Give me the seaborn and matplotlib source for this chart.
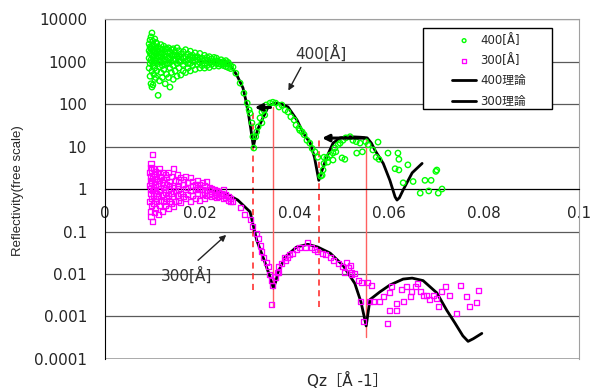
import numpy as np
import pandas as pd
import matplotlib
matplotlib.use('Agg')
import matplotlib.pyplot as plt
from matplotlib.patches import Rectangle
import seaborn as sns

sns.set_style('white')
plt.rcParams['font.family'] = ['DejaVu Sans', 'Noto Sans CJK JP']

## Data

# 400 A sample, dense low-q region: q positions and the R values scattered at each
q400_dense = [0.0093, 0.0095, 0.0097, 0.0099, 0.0101, 0.0103, 0.0105, 0.0107, 0.0109, 0.0112,
              0.0115, 0.0118, 0.0121, 0.0124, 0.0127, 0.0130, 0.0134, 0.0137, 0.0140, 0.0144,
              0.0148, 0.0152, 0.0156, 0.0160, 0.0165, 0.0170, 0.0175, 0.0180, 0.0185, 0.0190,
              0.0195, 0.0200, 0.0205, 0.0210, 0.0215, 0.0220, 0.0225, 0.0230, 0.0235, 0.0240,
              0.0245, 0.0250, 0.0255, 0.0260, 0.0265]
r400_dense = [[1200, 2600, 700, 1800], [3200, 900, 450, 1600, 2200], [2000, 1100, 300, 3800, 1500],
              [4700, 1400, 600, 2300, 250, 1000], [280, 1900, 3000, 800, 1300], [1300, 2400, 500, 950, 1700],
              [3400, 700, 1700, 380, 1100], [2100, 1000, 420, 1500, 2800], [2700, 600, 1200, 1800],
              [160, 1800, 900, 2200, 1300], [1300, 350, 2000, 750, 1000], [1600, 550, 2500, 1000, 1300],
              [420, 1900, 1200, 800, 1500], [2300, 650, 1400, 1000], [1100, 300, 1700, 850, 2000],
              [2000, 500, 1300, 900], [900, 1600, 420, 2100, 1200], [250, 1200, 700, 1700], [1900, 1000, 550, 1400],
              [1400, 800, 2000, 380, 1100], [1100, 600, 1700, 1400], [2100, 900, 450, 1300], [1300, 700, 1800, 1000],
              [1000, 480, 1500, 1250], [1700, 850, 600, 1200], [1300, 1000, 550, 1900], [1100, 700, 1500, 900],
              [1750, 900, 600, 1300], [1200, 800, 1400, 1000], [1000, 650, 1600, 1250], [1300, 850, 1100],
              [1550, 950, 700, 1200], [1200, 800, 1050], [1400, 900, 700, 1100], [1100, 1250, 800],
              [950, 1300, 720], [1150, 850, 1000], [1250, 780, 950], [1050, 900, 1200],
              [1000, 780, 880], [1100, 850, 950], [1000, 800, 900], [1050, 760, 880],
              [900, 950, 720], [800, 680]]

# 400 A sample, fringe region
q400_fringe = [0.0270, 0.0276, 0.0285, 0.0293, 0.0300, 0.0304, 0.0306, 0.0310, 0.0312, 0.0314,
               0.0318, 0.0320, 0.0323, 0.0327, 0.0331, 0.0331, 0.0335, 0.0337, 0.0340, 0.0348,
               0.0354, 0.0360, 0.0367, 0.0373, 0.0380, 0.0386, 0.0392, 0.0399, 0.0403, 0.0409,
               0.0411, 0.0416, 0.0420, 0.0426, 0.0432, 0.0437, 0.0443, 0.0449, 0.0455, 0.0458,
               0.0460, 0.0462, 0.0462, 0.0468, 0.0470, 0.0475, 0.0481, 0.0481, 0.0485, 0.0487,
               0.0492, 0.0496, 0.0500, 0.0502, 0.0506, 0.0508, 0.0517, 0.0523, 0.0530, 0.0531,
               0.0538, 0.0543, 0.0550, 0.0555, 0.0565, 0.0572, 0.0576, 0.0578, 0.0597, 0.0612,
               0.0618, 0.0620, 0.0620, 0.0629, 0.0639, 0.0650, 0.0665, 0.0675, 0.0683, 0.0688,
               0.0698, 0.0700, 0.0703, 0.0711]
r400_fringe = [740, 530, 310, 180, 105, 73, 61, 36, 17, 9.2,
               17, 22, 29, 47, 65, 36, 72, 55, 95, 105,
               110, 105, 85, 95, 72, 65, 50, 42, 32, 27,
               24, 22, 19, 14, 12, 9, 7.5, 5.6, 2.0, 2.1,
               2.8, 4.0, 5.6, 5.4, 4.3, 6.3, 7.0, 4.8, 9.2, 7.5,
               11, 12, 5.4, 14, 5.0, 16, 17, 14, 13, 7.0,
               12, 7.5, 13, 11, 8.3, 5.6, 12.7, 5.0, 7.0, 3.0,
               7.0, 5.0, 2.8, 1.4, 3.7, 1.5, 0.8, 1.6, 0.9, 1.6,
               2.6, 2.8, 0.8, 1.0]

# 300 A sample, dense low-q region
q300_dense = q400_dense
r300_dense = [[1.2, 0.5, 2.5], [3.2, 0.8, 0.3, 1.6], [2.0, 1.0, 0.22, 4.0], [1.4, 0.6, 2.8, 0.4],
              [6.6, 0.17, 1.8, 0.9], [1.1, 3.0, 0.45, 0.7], [2.2, 0.28, 1.5, 0.9],
              [0.6, 1.3, 2.6, 0.35], [1.8, 0.8, 0.5], [0.25, 1.2, 2.4, 0.65], [1.6, 0.4, 3.0, 0.9],
              [1.0, 2.0, 0.55], [0.3, 1.4, 2.5, 0.75], [1.7, 0.5, 1.1], [2.2, 0.85, 0.4],
              [1.3, 0.6, 1.9], [0.35, 1.0, 2.4, 0.7], [1.5, 0.5, 1.2], [0.8, 2.0, 0.45],
              [3.0, 1.1, 0.38, 0.65], [1.6, 0.9, 0.5], [2.2, 0.7, 1.2], [0.55, 1.5, 1.0],
              [1.9, 0.8, 0.48], [1.3, 0.65, 1.7], [1.0, 2.0, 0.6], [1.4, 0.75, 1.1],
              [1.9, 0.5, 0.9], [1.2, 0.7, 1.5], [0.95, 0.6, 1.3], [1.6, 0.8, 1.1],
              [1.0, 0.55, 1.3], [1.4, 0.75, 0.95], [0.85, 1.2, 0.6], [1.5, 0.9, 0.7],
              [1.1, 0.75, 0.95], [0.8, 1.05, 0.65], [0.95, 0.7, 0.85], [0.75, 0.9, 0.62],
              [0.85, 0.65, 0.78], [0.8, 0.7], [0.95, 0.6, 0.72], [0.75, 0.62], [0.68, 0.55],
              [0.6, 0.52]]

# 300 A sample, fringe region
q300_fringe = [0.0270, 0.0285, 0.0295, 0.0306, 0.0312, 0.0319, 0.0323, 0.0327, 0.0331, 0.0335,
               0.0340, 0.0344, 0.0348, 0.0352, 0.0352, 0.0354, 0.0359, 0.0363, 0.0367, 0.0367,
               0.0373, 0.0378, 0.0380, 0.0386, 0.0390, 0.0395, 0.0403, 0.0411, 0.0422, 0.0428,
               0.0435, 0.0441, 0.0449, 0.0458, 0.0466, 0.0475, 0.0483, 0.0492, 0.0500, 0.0506,
               0.0510, 0.0513, 0.0517, 0.0520, 0.0521, 0.0527, 0.0534, 0.0540, 0.0542, 0.0545,
               0.0553, 0.0557, 0.0563, 0.0566, 0.0580, 0.0587, 0.0597, 0.0600, 0.0601, 0.0605,
               0.0616, 0.0616, 0.0626, 0.0629, 0.0636, 0.0645, 0.0647, 0.0654, 0.0660, 0.0665,
               0.0671, 0.0679, 0.0684, 0.0692, 0.0700, 0.0703, 0.0710, 0.0719, 0.0726, 0.0742,
               0.0751, 0.0763, 0.0770, 0.0783, 0.0789]
r300_fringe = [0.5, 0.36, 0.25, 0.19, 0.13, 0.09, 0.07, 0.048, 0.033, 0.024,
               0.019, 0.015, 0.0095, 0.0072, 0.0019, 0.0053, 0.0085, 0.011, 0.015, 0.011,
               0.018, 0.025, 0.021, 0.025, 0.028, 0.031, 0.037, 0.041, 0.043, 0.054,
               0.041, 0.037, 0.033, 0.031, 0.028, 0.024, 0.021, 0.018, 0.015, 0.011,
               0.019, 0.014, 0.016, 0.011, 0.0095, 0.0105, 0.0069, 0.0022, 0.0062, 0.00075,
               0.0062, 0.0022, 0.0055, 0.0022, 0.0022, 0.0029, 0.0007, 0.0014, 0.0036, 0.005,
               0.0014, 0.002, 0.0044, 0.0022, 0.005, 0.003, 0.0038, 0.005, 0.006, 0.0038,
               0.0032, 0.0032, 0.0025, 0.0032, 0.0026, 0.0017, 0.0038, 0.005, 0.0032, 0.0012,
               0.0055, 0.003, 0.0017, 0.0021, 0.0042]

# theory curves
q400_theory = [0.0200, 0.0253, 0.0265, 0.0278, 0.0291, 0.0297, 0.0303, 0.0308, 0.0313, 0.0318,
               0.0324, 0.0331, 0.0344, 0.0353, 0.0362, 0.0372, 0.0386, 0.0405, 0.0418, 0.0433,
               0.0442, 0.0451, 0.0459, 0.0468, 0.0481, 0.0496, 0.0517, 0.0540, 0.0553, 0.0562,
               0.0570, 0.0587, 0.0601, 0.0612, 0.0616, 0.0621, 0.0629, 0.0648, 0.0669]
r400_theory = [1000, 1000, 800, 480, 240, 124, 55, 24, 10, 18,
               28, 42, 85, 100, 105, 100, 85, 42, 21, 12,
               5.5, 1.6, 3.0, 5.7, 12, 16, 17, 16.5, 16, 12,
               8, 4, 1.6, 0.65, 0.55, 0.62, 0.95, 2.4, 4]

q300_theory = [0.0215, 0.0253, 0.0280, 0.0306, 0.0320, 0.0338, 0.0348, 0.0355, 0.0360, 0.0365,
               0.0380, 0.0404, 0.0428, 0.0449, 0.0475, 0.0502, 0.0527, 0.0540, 0.0551, 0.0559,
               0.0580, 0.0601, 0.0629, 0.0648, 0.0671, 0.0700, 0.0721, 0.0738, 0.0755, 0.0766,
               0.0777, 0.0795]
r300_theory = [1.0, 0.8, 0.55, 0.29, 0.063, 0.018, 0.0085, 0.0047, 0.0065, 0.011,
               0.025, 0.043, 0.05, 0.043, 0.031, 0.016, 0.006, 0.0022, 0.0006, 0.0025,
               0.0038, 0.0055, 0.0076, 0.008, 0.007, 0.0036, 0.0014, 0.00071, 0.00035, 0.00026,
               0.0003, 0.0004]

# red guide lines: (q, R top, R bottom)
guide_q = [0.0312, 0.0354, 0.0451, 0.0551]
guide_top = [61, 85, 15.8, 15.8]
guide_bottom = [0.0042, 0.0017, 0.0017, 0.00033]
guide_dashed = [True, False, True, False]


def expand(qs, rs):
    xs, ys = [], []
    for q, vals in zip(qs, rs):
        xs += [q] * len(vals)
        ys += vals
    return xs, ys


x4, y4 = expand(q400_dense, r400_dense)
x3, y3 = expand(q300_dense, r300_dense)
df400 = pd.DataFrame({'q': x4 + q400_fringe, 'R': y4 + r400_fringe})
df300 = pd.DataFrame({'q': x3 + q300_fringe, 'R': y3 + r300_fringe})

## Plot

fig = plt.figure(figsize=(5.91, 3.92), dpi=100)
ax = fig.add_axes([0.1777, 0.0842, 0.8020, 0.8673])
ax.set_yscale('log')

for v in 10.0 ** np.arange(-4, 5):
    ax.axhline(v, color='#5a5a5a', lw=0.9, zorder=0)

for q, top, bot, dashed in zip(guide_q, guide_top, guide_bottom, guide_dashed):
    if dashed:
        ax.plot([q, q], [bot, top], color='#ff2020', lw=1.1, ls=(0, (4, 3)), zorder=1)
    else:
        ax.plot([q, q], [bot, top], color='#ff6060', lw=1.0, zorder=1)

sns.lineplot(x=q400_theory, y=r400_theory, color='black', lw=2, sort=False,
             estimator=None, ax=ax, label='400理論', zorder=2)
sns.lineplot(x=q300_theory, y=r300_theory, color='black', lw=2, sort=False,
             estimator=None, ax=ax, label='300理論', zorder=2)

sns.scatterplot(data=df400, x='q', y='R', marker='o', s=15, facecolor='none',
                edgecolor='#00ff00', linewidth=1.0, ax=ax, label='400[Å]', zorder=3)
sns.scatterplot(data=df300, x='q', y='R', marker='s', s=13, facecolor='none',
                edgecolor='#ff00ff', linewidth=0.95, ax=ax, label='300[Å]', zorder=3)

ax.set_xlim(0, 0.1)
ax.set_ylim(1e-4, 1e4)

# x axis crosses at R = 1
ax.spines['bottom'].set_position(('data', 1))
ax.spines['bottom'].set_color('black')
ax.spines['left'].set_color('black')
for s in ['top', 'right']:
    ax.spines[s].set_color('#a0a0a0')
ax.axhline(1e-4, color='#a0a0a0', lw=1.2, zorder=0)

ax.set_xticks([0, 0.02, 0.04, 0.06, 0.08, 0.1])
ax.set_xticklabels(['0', '0.02', '0.04', '0.06', '0.08', '0.1'])
ax.set_yticks(10.0 ** np.arange(-4, 5))
ax.set_yticklabels(['0.0001', '0.001', '0.01', '0.1', '1', '10', '100', '1000', '10000'])
ax.minorticks_off()
ax.tick_params(axis='x', direction='in', length=4, width=1, pad=12, labelsize=11)
ax.tick_params(axis='y', length=0, pad=13, labelsize=11)
ax.set_xlabel('')
ax.set_ylabel('')

# arrows
arr = dict(arrowstyle='-|>', color='black', lw=2.2, mutation_scale=10)
ax.annotate('', xy=(0.0310, 83), xytext=(0.0355, 83), arrowprops=arr, zorder=4)
ax.annotate('', xy=(0.0452, 15.8), xytext=(0.0553, 15.8), arrowprops=arr, zorder=4)
thin = dict(arrowstyle='-|>', color='#222222', lw=1, mutation_scale=9)
ax.annotate('', xy=(0.0384, 181), xytext=(0.0416, 830), arrowprops=thin)
ax.text(0.0456, 1585, '400[Å]', fontsize=11, color='#333333', ha='center', va='center')
ax.annotate('', xy=(0.0260, 0.092), xytext=(0.0192, 0.019), arrowprops=thin)
ax.text(0.0171, 0.0095, '300[Å]', fontsize=11, color='#333333', ha='center', va='center')

# legend: data first, then theory; box drawn separately
h, l = ax.get_legend_handles_labels()
order = [l.index('400[Å]'), l.index('300[Å]'), l.index('400理論'), l.index('300理論')]
ax.add_patch(Rectangle((0.671, 0.735), 0.272, 0.239, transform=ax.transAxes,
                       facecolor='white', edgecolor='black', lw=1, zorder=5))
leg = ax.legend([h[i] for i in order], [l[i] for i in order], loc='upper left',
                bbox_to_anchor=(0.709, 0.988), fontsize=8.5, frameon=False,
                handlelength=2.1, handletextpad=0.3, labelspacing=0.62,
                borderpad=0.4, markerscale=0.7)
leg.set_zorder(6)

fig.text(18.5 / 591, 1 - 191 / 392, 'Reflectivity(free scale)', rotation=90,
         ha='center', va='center', fontsize=9.5, family=['Liberation Sans', 'DejaVu Sans'])
fig.text(347 / 591, 1 - 380 / 392, 'Qz［Å -1］', ha='center', va='center', fontsize=11,
         family=['DejaVu Sans', 'Noto Sans CJK JP'])

plt.savefig('out.png', dpi=100)
